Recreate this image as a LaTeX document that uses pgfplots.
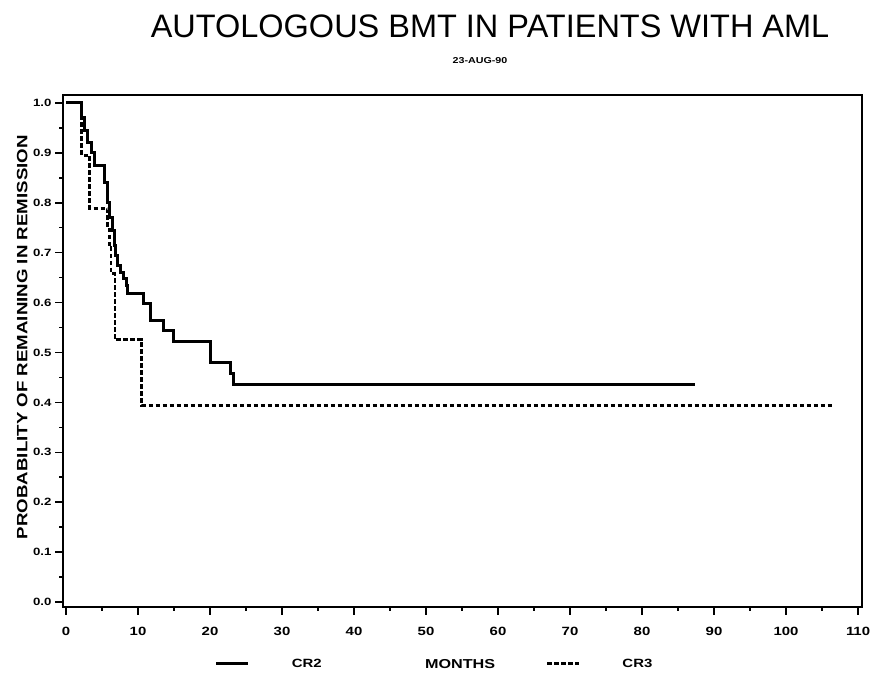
\documentclass[border=0pt]{standalone}
\usepackage{pgfplots}
\pgfplotsset{compat=1.18}
\usepackage{fontspec}
\setmainfont{Liberation Sans}
\newfontfamily\sas[FakeStretch=1.25]{Liberation Sans}
\begin{document}
\begin{tikzpicture}[x=1bp,y=1bp]
\path[use as bounding box] (0,0) rectangle (871,677);
\node[font=\fontsize{32.6}{34}\selectfont, anchor=base, inner sep=0pt] at (490,639) {AUTOLOGOUS BMT IN PATIENTS WITH AML};
\node[font=\sas\bfseries\fontsize{8.6}{8.6}\selectfont, inner sep=0pt] at (480,616) {23-AUG-90};
\begin{axis}[
  at={(63bp,70bp)}, anchor=south west, scale only axis,
  width=799bp, height=512bp,
  xmin=-0.42, xmax=110.55, ymin=-0.01, ymax=1.016,
  /pgf/number format/assume math mode=true,
  axis line style={line width=2.6bp},
  tick style={line width=1.5bp, black},
  tick align=outside,
  major tick length=8bp, minor tick length=4bp,
  xtick pos=bottom, ytick pos=left,
  xtick={0,10,...,110}, minor x tick num=1,
  ytick={0,0.1,...,1.0}, minor y tick num=1,
  yticklabel={\pgfmathprintnumber[fixed,fixed zerofill,precision=1]{\tick}},
  xticklabel style={font=\sas\bfseries\fontsize{12}{12}\selectfont, yshift=-9bp},
  yticklabel style={font=\sas\bfseries\fontsize{10.6}{10.6}\selectfont},
  xlabel={MONTHS},
  xlabel style={at={(axis description cs:0.497,-0.111)}, anchor=center, font=\sas\bfseries\fontsize{13}{13}\selectfont},
  ylabel={PROBABILITY OF REMAINING IN REMISSION},
  ylabel style={at={(axis description cs:-0.051,0.527)}, anchor=center, font=\sas\bfseries\fontsize{15}{15}\selectfont},
  legend style={at={(axis description cs:0.19,-0.111)}, anchor=west, draw=none, fill=none,
    inner sep=0pt, outer sep=0pt, legend columns=2,
    font=\sas\bfseries\fontsize{12}{12}\selectfont,
    /tikz/every odd column/.append style={column sep=40bp},
    /tikz/every even column/.append style={column sep=222bp}},
  legend image code/.code={\draw[#1] (0bp,0bp) -- (32bp,0bp);},
]
\addplot[const plot, black, line width=3bp] coordinates {
(0,1.0)(2.2,0.97)(2.6,0.945)(3.0,0.92)(3.5,0.90)(3.95,0.875)(5.4,0.84)(5.8,0.80)(6.1,0.77)(6.4,0.745)(6.7,0.715)(6.9,0.695)(7.1,0.675)(7.5,0.66)(8.0,0.648)(8.4,0.635)(8.6,0.618)(10.7,0.598)(11.7,0.565)(13.5,0.545)(14.9,0.523)(20.1,0.48)(22.8,0.458)(23.3,0.435)(87.4,0.435)
};
\addlegendentry{CR2}
\addplot[const plot, black, line width=2.8bp, dash pattern=on 4.5bp off 2.5bp] coordinates {
(0,1.0)(2.2,0.895)(3.3,0.789)(5.8,0.75)(6.0,0.71)(6.25,0.658)(6.8,0.526)(10.5,0.394)(106.4,0.394)
};
\addlegendentry{CR3}
\end{axis}
\end{tikzpicture}
\end{document}
